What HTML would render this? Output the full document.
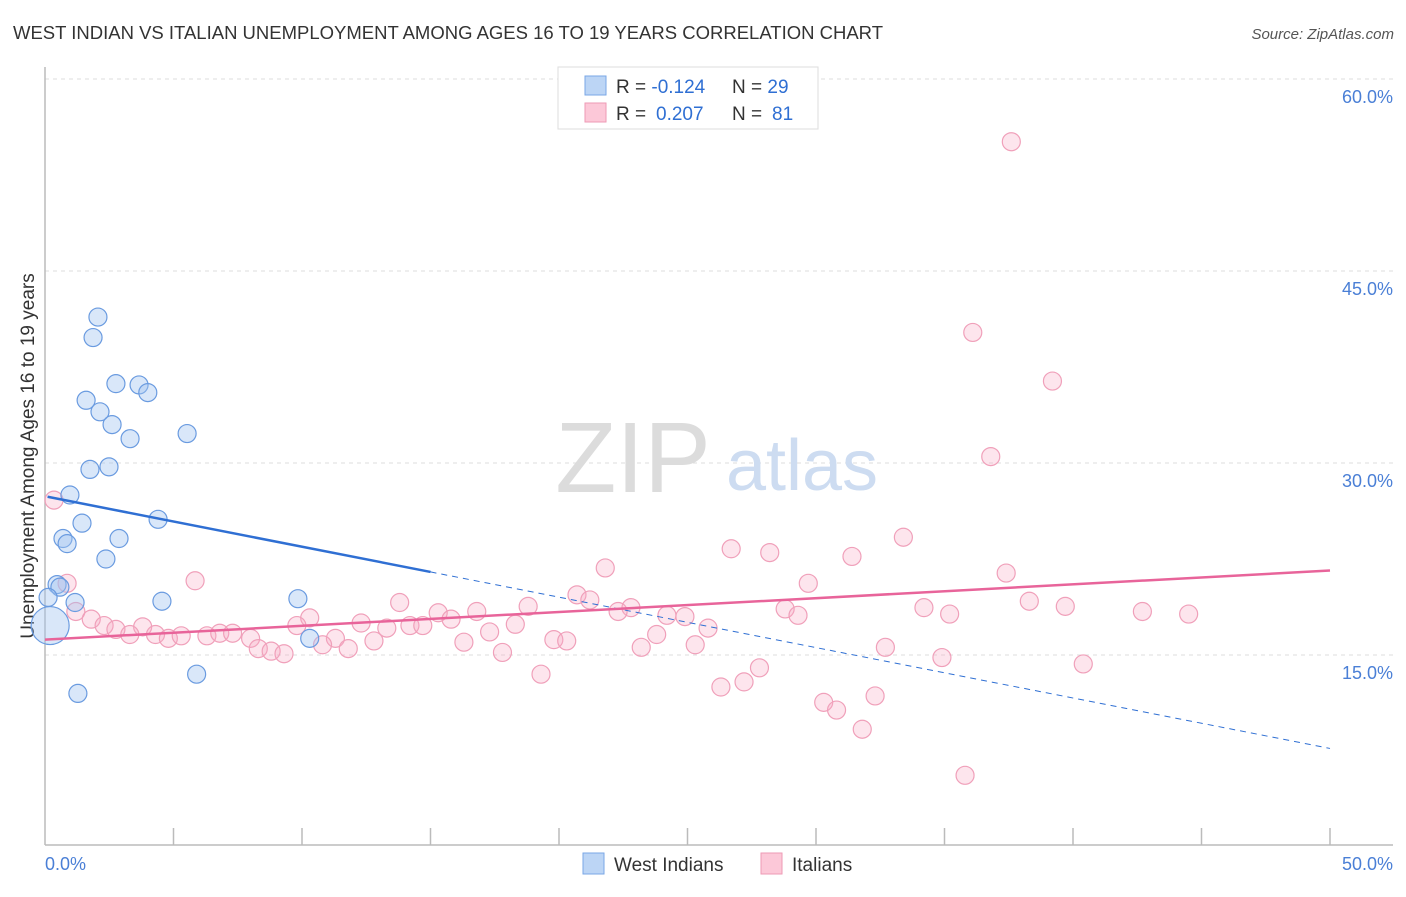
<!DOCTYPE html>
<html><head><meta charset="utf-8"><style>
body{margin:0;background:#fff;font-family:"Liberation Sans",sans-serif;}
svg text{font-family:"Liberation Sans",sans-serif;}
</style></head><body>
<svg width="1406" height="892" xmlns="http://www.w3.org/2000/svg" id="chart">
<text x="13" y="39" font-size="18.5" fill="#333" textLength="870" lengthAdjust="spacingAndGlyphs">WEST INDIAN VS ITALIAN UNEMPLOYMENT AMONG AGES 16 TO 19 YEARS CORRELATION CHART</text>
<text x="1394" y="39" font-size="15" fill="#555" font-style="italic" text-anchor="end">Source: ZipAtlas.com</text>
<g id="grid"></g>
<g id="yticks"></g>
<line x1="45" y1="67" x2="45" y2="845" stroke="#bbb" stroke-width="1.5"/>
<line x1="45" y1="845" x2="1393" y2="845" stroke="#bbb" stroke-width="1.5"/>
<g id="xticks"></g>
<text x="45" y="870" font-size="18" fill="#4a7fd6">0.0%</text>
<text x="1393" y="870" font-size="18" fill="#4a7fd6" text-anchor="end">50.0%</text>
<text transform="translate(34,456) rotate(-90)" font-size="19" fill="#333" text-anchor="middle">Unemployment Among Ages 16 to 19 years</text>
<g>
<text x="633" y="492" font-size="100" fill="#dcdcdc" font-family="Liberation Serif" text-anchor="middle">ZIP</text>
<text x="802" y="490" font-size="72" fill="#cddcf1" text-anchor="middle">atlas</text>
</g>
<g id="pts"></g>
<g id="lines"></g>
<g>
<rect x="558" y="67" width="260" height="62" fill="#fff" stroke="#ddd"/>
<rect x="585" y="76" width="21" height="19" fill="#bcd5f5" stroke="#7aa7e6"/>
<rect x="585" y="103" width="21" height="19" fill="#fcc8d8" stroke="#ee9ab5"/>
<text x="616" y="93" font-size="19" fill="#333">R = <tspan fill="#2f6fd3">-0.124</tspan><tspan x="732">N = </tspan><tspan fill="#2f6fd3">29</tspan></text>
<text x="616" y="120" font-size="19" fill="#333">R = <tspan fill="#2f6fd3" x="656">0.207</tspan><tspan x="732">N = </tspan><tspan fill="#2f6fd3" x="772">81</tspan></text>
</g>
<g>
<rect x="583" y="853" width="21" height="21" fill="#bcd5f5" stroke="#7aa7e6"/>
<text x="614" y="871" font-size="19" fill="#333">West Indians</text>
<rect x="761" y="853" width="21" height="21" fill="#fcc8d8" stroke="#ee9ab5"/>
<text x="792" y="871" font-size="19" fill="#333">Italians</text>
</g>
</svg>
<script>
const yTicks=[15,30,45,60];
const xTickVals=[5,10,15,20,25,30,35,40,45,50];
const blueX=[2.06,1.87,1.6,2.76,3.66,4.0,2.14,2.61,3.31,5.53,1.75,2.49,0.97,1.44,4.4,0.7,0.86,2.88,2.37,0.47,0.58,0.12,1.17,4.55,9.84,10.3,5.9,1.28,0.2];
const blueY=[41.4,39.8,34.9,36.2,36.1,35.5,34.0,33.0,31.9,32.3,29.5,29.7,27.5,25.3,25.6,24.1,23.7,24.1,22.5,20.5,20.3,19.5,19.1,19.2,19.4,16.3,13.5,12.0,17.3];
const blueR=[9,9,9,9,9,9,9,9,9,9,9,9,9,9,9,9,9,9,9,9,9,9,9,9,9,9,9,9,19];
const pinkX=[37.6,36.1,39.2,36.8,0.35,33.4,26.7,28.2,31.4,21.8,0.86,5.84,29.7,37.4,20.7,21.2,13.8,18.8,22.8,38.3,39.7,34.2,16.8,15.3,22.3,28.8,42.7,44.5,29.3,35.2,24.2,24.9,1.2,1.8,10.3,15.8,12.3,18.3,9.8,14.2,14.7,13.3,25.8,2.3,2.76,3.8,3.3,4.3,4.8,5.3,6.3,6.8,7.3,8.0,17.3,11.3,23.8,12.8,19.8,20.3,16.3,8.3,8.8,9.3,10.8,11.8,17.8,23.2,25.3,32.7,34.9,40.4,27.8,19.3,27.2,26.3,32.3,30.3,30.8,31.8,35.8];
const pinkY=[55.1,40.2,36.4,30.5,27.1,24.2,23.3,23.0,22.7,21.8,20.6,20.8,20.6,21.4,19.7,19.3,19.1,18.8,18.7,19.2,18.8,18.7,18.4,18.3,18.4,18.6,18.4,18.2,18.1,18.2,18.1,18.0,18.4,17.8,17.9,17.8,17.5,17.4,17.3,17.3,17.3,17.1,17.1,17.3,17.0,17.2,16.6,16.6,16.3,16.5,16.5,16.7,16.7,16.3,16.8,16.3,16.6,16.1,16.2,16.1,16.0,15.5,15.3,15.1,15.8,15.5,15.2,15.6,15.8,15.6,14.8,14.3,14.0,13.5,12.9,12.5,11.8,11.3,10.7,9.2,5.6];
const blueTrend=[27.4,7.7]; const blueSolidEnd=15;
const pinkTrend=[16.2,21.6];
const X=v=>45+v*25.7, Y=v=>847-v*12.8;
const NS='http://www.w3.org/2000/svg';
function mk(tag,attrs,parent){const e=document.createElementNS(NS,tag);for(const k in attrs)e.setAttribute(k,attrs[k]);document.getElementById(parent).appendChild(e);return e;}
yTicks.forEach(t=>{
 const l=mk('line',{x1:45,x2:1393,y1:Y(t),y2:Y(t),stroke:'#ddd','stroke-dasharray':'4,4'},'grid');
 
 
 const tx=mk('text',{x:1393,y:Y(t)+24,'font-size':18,fill:'#4a7fd6','text-anchor':'end'},'yticks');
 tx.textContent=t.toFixed(1)+'%';
 
 
});
xTickVals.forEach(t=>{
 const l=mk('line',{x1:X(t),x2:X(t),y1:828,y2:845,stroke:'#bbb','stroke-width':1.5},'xticks');
 
 
});
pinkX.forEach((x,i)=>{
 const c=mk('circle',{cx:X(x),cy:Y(pinkY[i]),r:9,fill:'rgba(248,170,195,0.3)',stroke:'#f0a0ba','stroke-width':1.2},'pts');
 
 
});
blueX.forEach((x,i)=>{
 const c=mk('circle',{cx:X(x),cy:Y(blueY[i]),r:blueR[i],fill:'rgba(160,195,240,0.4)',stroke:'#6a9be0','stroke-width':1.2},'pts');
 
 
});
const bAt=v=>blueTrend[0]+(blueTrend[1]-blueTrend[0])*v/50;
let l1=mk('line',{x1:X(0.1),y1:Y(bAt(0.1)),x2:X(blueSolidEnd),y2:Y(bAt(blueSolidEnd)),stroke:'#2f6fd3','stroke-width':2.5},'lines');


let l2=mk('line',{x1:X(blueSolidEnd),y1:Y(bAt(blueSolidEnd)),x2:X(50),y2:Y(bAt(50)),stroke:'#2f6fd3','stroke-width':1,'stroke-dasharray':'6,5'},'lines');


let l3=mk('line',{x1:X(0),y1:Y(pinkTrend[0]),x2:X(50),y2:Y(pinkTrend[1]),stroke:'#e8649a','stroke-width':2.5},'lines');


</script>
</body></html>
